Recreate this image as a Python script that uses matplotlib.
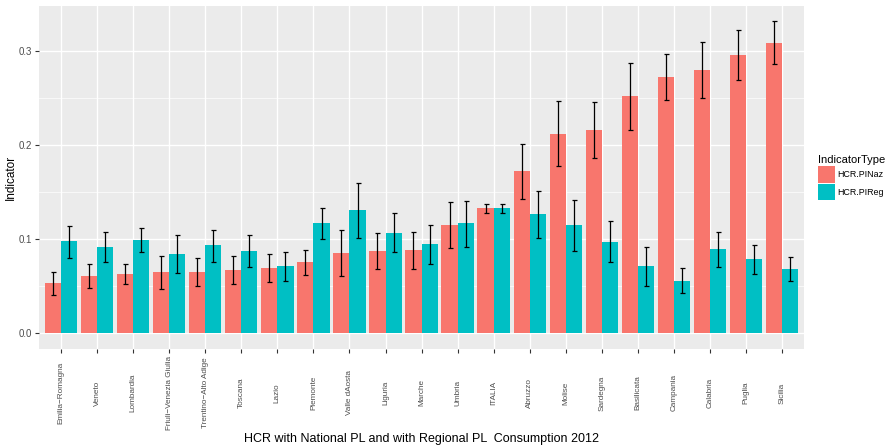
import matplotlib.pyplot as plt
import numpy as np

plt.rcParams['font.family'] = ['Liberation Sans', 'DejaVu Sans']

regions = ['Emilia\u2212Romagna', 'Veneto', 'Lombardia', 'Friuli\u2212Venezia Giulia',
           'Trentino\u2212Alto Adige', 'Toscana', 'Lazio', 'Piemonte', 'Valle dAosta',
           'Liguria', 'Marche', 'Umbria', 'ITALIA', 'Abruzzo', 'Molise', 'Sardegna',
           'Basilicata', 'Campania', 'Calabria', 'Puglia', 'Sicilia']

# HCR with national price level
pinaz = [0.0535, 0.061, 0.063, 0.065, 0.065, 0.067, 0.0695, 0.076, 0.0855, 0.0875,
         0.0885, 0.115, 0.133, 0.173, 0.212, 0.216, 0.2525, 0.273, 0.280, 0.296, 0.309]
pinaz_lo = [0.041, 0.048, 0.052, 0.0475, 0.0505, 0.052, 0.0545, 0.062, 0.0605, 0.068,
            0.068, 0.091, 0.128, 0.143, 0.178, 0.186, 0.2165, 0.248, 0.2505, 0.269, 0.286]
pinaz_hi = [0.0655, 0.074, 0.0735, 0.0825, 0.0805, 0.0825, 0.0845, 0.0885, 0.110, 0.1065,
            0.108, 0.140, 0.138, 0.2015, 0.2465, 0.2455, 0.287, 0.297, 0.310, 0.322, 0.332]

# HCR with regional price level
pireg = [0.098, 0.092, 0.099, 0.0845, 0.094, 0.0875, 0.0715, 0.1175, 0.131, 0.1065,
         0.095, 0.1175, 0.133, 0.127, 0.115, 0.097, 0.0715, 0.0555, 0.0895, 0.079, 0.068]
pireg_lo = [0.0805, 0.076, 0.086, 0.0645, 0.076, 0.070, 0.0555, 0.1005, 0.1015, 0.086,
            0.074, 0.092, 0.128, 0.1015, 0.087, 0.076, 0.0505, 0.0425, 0.070, 0.063, 0.0555]
pireg_hi = [0.1145, 0.108, 0.1115, 0.104, 0.110, 0.104, 0.086, 0.133, 0.160, 0.128,
            0.115, 0.141, 0.138, 0.1515, 0.142, 0.119, 0.092, 0.069, 0.108, 0.094, 0.081]

red = '#F8766D'
teal = '#00BFC4'

fig = plt.figure(figsize=(8.87, 4.47), dpi=100)
ax = fig.add_axes([0.0443, 0.2186, 0.862, 0.768])
ax.set_facecolor('#EBEBEB')

x = np.arange(len(regions))
w = 0.45

ax.bar(x - w / 2, pinaz, width=w, color=red, label='HCR.PINaz', zorder=2)
ax.bar(x + w / 2, pireg, width=w, color=teal, label='HCR.PIReg', zorder=2)

for xs, v, lo, hi in [(x - w / 2, pinaz, pinaz_lo, pinaz_hi),
                      (x + w / 2, pireg, pireg_lo, pireg_hi)]:
    v = np.array(v)
    err = [v - np.array(lo), np.array(hi) - v]
    ax.errorbar(xs, v, yerr=err, fmt='none', ecolor='black', elinewidth=0.9,
                capsize=1.8, capthick=0.9, zorder=3)

ax.set_xlim(-0.6, 20.6)
ax.set_ylim(-0.017, 0.348)
ax.set_xticks(x)
ax.set_xticklabels([])
# region names, rotated and centred below the ticks
for xi, name in zip(x, regions):
    ax.text(xi, -0.127, name, transform=ax.get_xaxis_transform(), rotation=90,
            ha='center', va='center', fontsize=5.9, color='#4D4D4D')
ax.set_yticks([0.0, 0.1, 0.2, 0.3])
ax.set_yticklabels(['0.0', '0.1', '0.2', '0.3'], fontsize=7, color='#4D4D4D')
ax.set_yticks([0.05, 0.15, 0.25], minor=True)

ax.grid(True, which='major', color='white', linewidth=1.0, zorder=0)
ax.grid(True, which='minor', axis='y', color='white', linewidth=0.5, zorder=0)
ax.set_axisbelow(True)
ax.tick_params(axis='both', which='major', length=3, width=0.8, color='#333333', pad=2)
ax.tick_params(axis='y', which='minor', length=0)
for s in ax.spines.values():
    s.set_visible(False)

ax.set_ylabel('Indicator', fontsize=8.5)
ax.yaxis.set_label_coords(-0.029, 0.5)
fig.text(0.475, 2 / 447, 'HCR with National PL and with Regional PL  Consumption 2012',
         ha='center', va='bottom', fontsize=9)

leg = ax.legend(title='IndicatorType', loc='center left', bbox_to_anchor=(1.009, 0.5),
                frameon=False, fontsize=6.4, title_fontsize=8, handlelength=1.9,
                handleheight=2.5, handletextpad=0.25, labelspacing=0.1, borderaxespad=0.4)
leg._legend_box.align = 'left'

fig.savefig('out.png', dpi=100)
